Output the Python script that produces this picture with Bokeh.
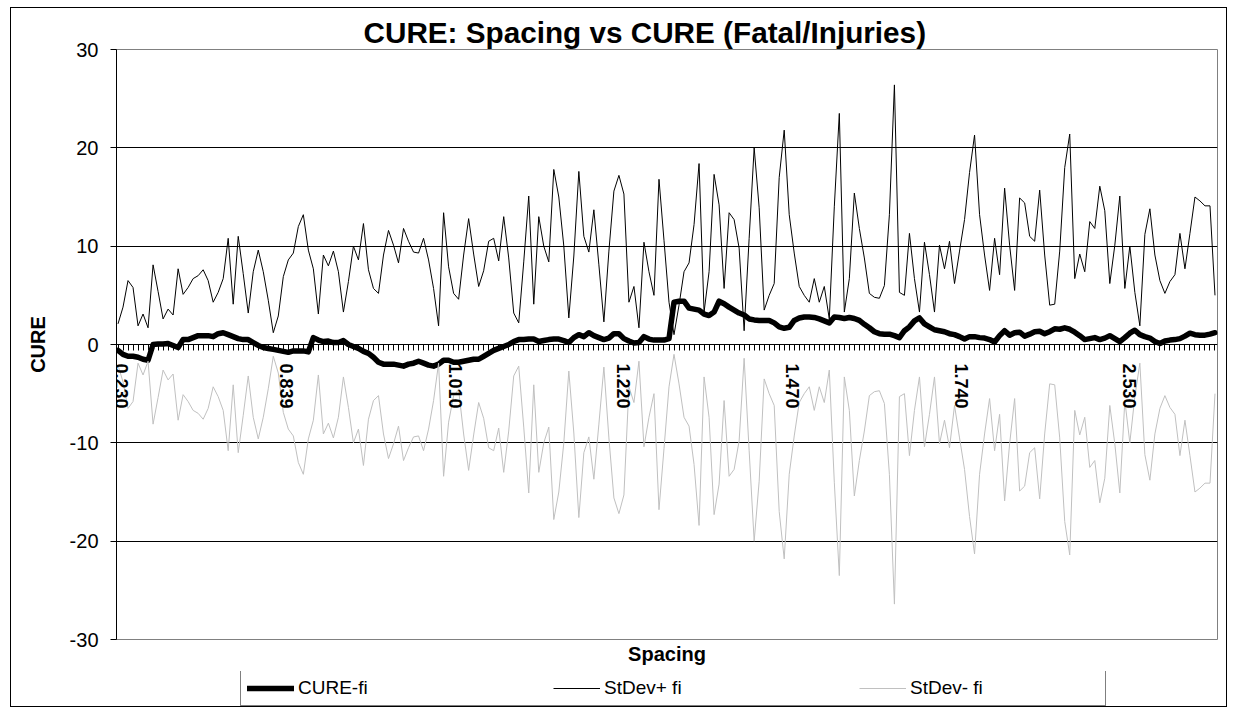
import math
from bokeh.plotting import figure
from bokeh.layouts import column
from bokeh.models import ColumnDataSource, Range1d, FixedTicker, Title, Legend, LegendItem
from bokeh.embed import file_html
from bokeh.resources import INLINE

# ---- data ----
tick_labels = ["0.230", "0.839", "1.010", "1.220", "1.470", "1.740", "2.530"]
label_step = 33.66  # categories (tick units) between two labelled ticks
y_ticks = [-30, -20, -10, 0, 10, 20, 30]
y_tick_labels = ["-30", "-20", "-10", "0", "10", "20", "30"]
series_names = ["CURE-fi", "StDev+ fi", "StDev- fi"]

cure_fi = [
    -0.6, -1.0, -1.2, -1.2, -1.3, -1.5, -1.6, 0.0, 0.05, 0.05,
    0.1, -0.1, -0.3, 0.5, 0.5, 0.7, 0.9, 0.9, 0.9, 0.8,
    1.1, 1.2, 1.0, 0.8, 0.6, 0.5, 0.5, 0.2, -0.1, -0.3,
    -0.4, -0.5, -0.6, -0.7, -0.8, -0.65, -0.65, -0.65, -0.75, 0.7,
    0.45, 0.3, 0.35, 0.2, 0.2, 0.4,
    0.0, -0.2, -0.4, -0.7, -0.9, -1.3, -1.8, -2.0, -2.0, -2.0,
    -2.1, -2.2, -2.0, -1.9, -1.7, -1.9, -2.1, -2.2, -2.0, -1.6,
    -1.6, -1.8, -1.8, -1.7, -1.6, -1.5, -1.5, -1.2, -0.9, -0.6,
    -0.4, -0.2, 0.0, 0.3, 0.5, 0.5, 0.55, 0.55, 0.3, 0.4,
    0.5, 0.55, 0.55, 0.4, 0.2, 0.7, 1.0, 0.8, 1.2, 0.9,
    0.7, 0.5, 0.65, 1.1, 1.1, 0.6, 0.35, 0.15, 0.2, 0.8,
    0.55, 0.45, 0.45, 0.45, 0.6,
    4.3, 4.4, 4.4, 3.7, 3.6, 3.5, 3.1, 2.95, 3.3, 4.4,
    4.15, 3.8, 3.5, 3.2, 3.0, 2.6, 2.5, 2.45, 2.45, 2.45,
    2.2, 1.8, 1.65, 1.75, 2.45, 2.7, 2.8, 2.8, 2.75, 2.6,
    2.4, 2.2, 2.8, 2.75, 2.65, 2.75, 2.65, 2.45, 2.05, 1.7,
    1.3, 1.1, 1.05, 1.05, 0.9, 0.7, 1.4, 1.8, 2.4, 2.7,
    2.1, 1.8, 1.5, 1.4, 1.3,
    1.1, 1.0, 0.8, 0.55, 0.8, 0.8, 0.7, 0.65, 0.5, 0.25,
    0.9, 1.4, 0.95, 1.2, 1.25, 0.85, 1.05, 1.3, 1.35, 1.1,
    1.3, 1.6, 1.55, 1.7, 1.55, 1.25, 0.9, 0.5, 0.6, 0.7,
    0.5, 0.65, 0.9, 0.6, 0.3, 0.7, 1.15, 1.45, 1.0, 0.8,
    0.65, 0.3, 0.1, 0.35, 0.45, 0.5, 0.6, 0.85, 1.15, 1.0,
    0.95, 0.95, 1.05, 1.2,
]

stdev_plus = [
    2.1, 3.8, 6.5, 5.8, 1.9, 3.1, 1.7, 8.1, 5.4, 2.6,
    3.6, 3.0, 7.7, 5.1, 5.8, 6.7, 7.0, 7.6, 6.5, 4.3,
    5.3, 6.7, 10.8, 4.1, 11.0, 7.2, 3.2, 7.4, 9.6, 7.4,
    4.5, 1.2, 2.9, 6.9, 8.6, 9.3, 12.0, 13.2, 9.6, 7.7,
    3.1, 9.1, 8.0, 9.5, 7.4, 3.3, 6.4, 10.0, 8.6, 12.3,
    7.6, 5.7, 5.2, 9.1, 11.6, 10.1,
    8.3, 11.8, 10.5, 9.4,
    9.3, 10.8, 8.6, 5.7, 1.9, 13.4, 7.9, 5.2, 4.6, 9.1,
    12.8, 9.2, 5.9, 7.5, 10.5, 10.8, 8.5, 13.0, 8.8, 3.2,
    2.2, 8.4, 15.1, 4.1, 13.0, 10.0, 8.4, 17.8, 15.0, 10.0,
    2.7, 9.0, 17.6, 11.0, 9.4, 13.7, 8.1, 2.3, 9.5, 15.6,
    17.2, 15.3, 4.3, 5.9, 1.7, 10.4, 7.4, 5.0, 16.8, 10.6,
    4.3, 1.0, 4.0, 7.4, 8.3, 12.2, 18.4, 3.3, 7.4, 17.3,
    14.2, 5.7, 13.4, 12.7, 9.8, 1.4, 10.8, 20.0, 13.9, 3.5,
    5.0, 6.2, 17.0, 21.8, 13.2, 9.3, 5.9, 5.0, 4.3, 6.7,
    4.3, 5.9, 2.6, 14.0, 23.5, 3.3, 6.7, 15.4, 11.8, 8.8,
    5.2, 4.8, 4.7, 6.0, 13.2, 26.4, 5.3, 5.0, 11.3, 6.7,
    3.3, 10.4, 7.1, 3.3, 10.1, 7.7, 10.5, 6.2, 9.5, 12.7,
    17.5, 21.3, 13.2, 9.1, 5.5, 10.8, 7.1, 15.9, 10.1, 5.5,
    14.9, 14.4, 11.0, 10.5, 15.7, 9.1, 4.0, 4.1, 9.5, 18.0,
    21.4, 6.7, 9.2, 7.4, 12.5, 11.8, 16.1, 13.6, 6.2, 10.1,
    15.1, 5.7, 10.0, 5.3, 1.9, 11.2, 13.8, 9.1, 6.5, 5.2,
    6.4, 7.1, 11.3, 7.7, 11.3, 15.0, 14.6, 14.1, 14.1, 5.0,
]

stdev_minus = [
    -2.1, -3.8, -6.5, -5.8, -1.9, -3.1, -1.7, -8.1, -5.4, -2.6,
    -3.6, -3.0, -7.7, -5.1, -5.8, -6.7, -7.0, -7.6, -6.5, -4.3,
    -5.3, -6.7, -10.8, -4.1, -11.0, -7.2, -3.2, -7.4, -9.6, -7.4,
    -4.5, -1.2, -2.9, -6.9, -8.6, -9.3, -12.0, -13.2, -9.6, -7.7,
    -3.1, -9.1, -8.0, -9.5, -7.4, -3.3, -6.4, -10.0, -8.6, -12.3,
    -7.6, -5.7, -5.2, -9.1, -11.6, -10.1,
    -8.3, -11.8, -10.5, -9.4,
    -9.3, -10.8, -8.6, -5.7, -1.9, -13.4, -7.9, -5.2, -4.6, -9.1,
    -12.8, -9.2, -5.9, -7.5, -10.5, -10.8, -8.5, -13.0, -8.8, -3.2,
    -2.2, -8.4, -15.1, -4.1, -13.0, -10.0, -8.4, -17.8, -15.0, -10.0,
    -2.7, -9.0, -17.6, -11.0, -9.4, -13.7, -8.1, -2.3, -9.5, -15.6,
    -17.2, -15.3, -4.3, -5.9, -1.7, -10.4, -7.4, -5.0, -16.8, -10.6,
    -4.3, -1.0, -4.0, -7.4, -8.3, -12.2, -18.4, -3.3, -7.4, -17.3,
    -14.2, -5.7, -13.4, -12.7, -9.8, -1.4, -10.8, -20.0, -13.9, -3.5,
    -5.0, -6.2, -17.0, -21.8, -13.2, -9.3, -5.9, -5.0, -4.3, -6.7,
    -4.3, -5.9, -2.6, -14.0, -23.5, -3.3, -6.7, -15.4, -11.8, -8.8,
    -5.2, -4.8, -4.7, -6.0, -13.2, -26.4, -5.3, -5.0, -11.3, -6.7,
    -3.3, -10.4, -7.1, -3.3, -10.1, -7.7, -10.5, -6.2, -9.5, -12.7,
    -17.5, -21.3, -13.2, -9.1, -5.5, -10.8, -7.1, -15.9, -10.1, -5.5,
    -14.9, -14.4, -11.0, -10.5, -15.7, -9.1, -4.0, -4.1, -9.5, -18.0,
    -21.4, -6.7, -9.2, -7.4, -12.5, -11.8, -16.1, -13.6, -6.2, -10.1,
    -15.1, -5.7, -10.0, -5.3, -1.9, -11.2, -13.8, -9.1, -6.5, -5.2,
    -6.4, -7.1, -11.3, -7.7, -11.3, -15.0, -14.6, -14.1, -14.1, -5.0,
]

y_grid = [-20, -10, 10, 20]
FONT = "Liberation Sans"
CURE_STYLE = dict(line_color="black", line_width=5.5, line_join="round", line_cap="round")
PLUS_STYLE = dict(line_color="black", line_width=1)
MINUS_STYLE = dict(line_color="#c0c0c0", line_width=1)

n_cat = len(cure_fi)
label_pos = [round(k * label_step, 2) for k in range(len(tick_labels))]
label_pos[0] = 0.7  # nudge first label right so the frame does not clip it

src_cure = ColumnDataSource(dict(x=list(range(len(cure_fi))), y=cure_fi))
src_plus = ColumnDataSource(dict(x=list(range(len(stdev_plus))), y=stdev_plus))
src_minus = ColumnDataSource(dict(x=list(range(len(stdev_minus))), y=stdev_minus))

FIG_W = 105 + 1099 + 11

p = figure(
    frame_width=1099, frame_height=588,
    output_backend="svg", toolbar_location=None,
    x_range=Range1d(-0.3, 219.5), y_range=Range1d(-30, 30),
    min_border_left=105, min_border_right=11, min_border_top=41, min_border_bottom=69,
    background_fill_color="white", border_fill_color="white",
)
p.styles = {"border": "1px solid black", "box-sizing": "border-box",
            "margin-left": "10px", "margin-top": "7px"}

# title
p.title.text = "CURE: Spacing vs CURE (Fatal/Injuries)"
p.title.text_font = FONT
p.title.text_font_size = "29.7px"
p.title.text_font_style = "bold"
p.title.text_color = "black"
p.title.align = "left"
p.title.offset = 247
p.title.standoff = 2

# frame / grid
p.outline_line_color = "#808080"
p.xgrid.visible = False
p.ygrid.ticker = FixedTicker(ticks=y_grid)
p.ygrid.grid_line_color = "black"
p.ygrid.grid_line_width = 1

# y axis
yax = p.yaxis[0]
yax.ticker = FixedTicker(ticks=y_ticks)
yax.major_label_overrides = {v: s for v, s in zip(y_ticks, y_tick_labels)}
yax.axis_line_color = "black"
yax.major_tick_line_color = "black"
yax.major_tick_out = 6
yax.major_tick_in = 0
yax.minor_tick_line_color = None
yax.major_label_standoff = 12
yax.major_label_text_font = FONT
yax.major_label_text_font_size = "20px"
yax.major_label_text_color = "black"
yax.axis_label = "CURE"
yax.axis_label_text_font = FONT
yax.axis_label_text_font_size = "20px"
yax.axis_label_text_font_style = "bold"
yax.axis_label_text_color = "black"
yax.axis_label_standoff = 18

# x (category) axis crossing at y = 0
xax = p.xaxis[0]
xax.fixed_location = 0
xax.ticker = FixedTicker(ticks=label_pos, minor_ticks=list(range(n_cat)))
xax.major_label_overrides = {pos: lab for pos, lab in zip(label_pos, tick_labels)}
xax.axis_line_color = "black"
xax.major_tick_line_color = None
xax.minor_tick_line_color = "black"
xax.major_tick_out = 6
xax.major_tick_in = 0
xax.minor_tick_out = 6
xax.minor_tick_in = 0
xax.major_label_orientation = -math.pi / 2
xax.major_label_standoff = 13
xax.major_label_text_font = FONT
xax.major_label_text_font_size = "18px"
xax.major_label_text_font_style = "bold"
xax.major_label_text_color = "black"

# series
p.line("x", "y", source=src_cure, **CURE_STYLE)
p.line("x", "y", source=src_plus, **PLUS_STYLE)
p.line("x", "y", source=src_minus, **MINUS_STYLE)

# x axis title
p.add_layout(Title(text="Spacing", align="center", text_font=FONT, text_font_size="20px",
                   text_font_style="bold", text_color="black", standoff=2), "below")

# ---- legend strip: its own transparent canvas, laid over the bottom of the chart area ----
lf = figure(
    width=FIG_W, height=36, output_backend="svg", toolbar_location=None, title=None,
    x_axis_type=None, y_axis_type=None,
    min_border_left=0, min_border_right=0, min_border_top=0, min_border_bottom=0,
    x_range=Range1d(0, 1), y_range=Range1d(0, 1),
    background_fill_alpha=0, border_fill_alpha=0,
)
lf.outline_line_color = None
lf.grid.visible = False
lf.styles = {"margin-left": "10px", "margin-top": "-36px"}
# legend sample renderers: their points lie outside the strip's ranges, so only the legend shows
lr_cure = lf.line([5, 6], [5, 5], **CURE_STYLE)
lr_plus = lf.line([5, 6], [5, 5], **PLUS_STYLE)
lr_minus = lf.line([5, 6], [5, 5], **MINUS_STYLE)

legend = Legend(
    items=[
        LegendItem(label=series_names[0], renderers=[lr_cure]),
        LegendItem(label=series_names[1], renderers=[lr_plus]),
        LegendItem(label=series_names[2], renderers=[lr_minus]),
    ],
    orientation="horizontal", location=(125, 1),
    glyph_width=47, label_standoff=4, label_width=189, spacing=66,
    padding=6, margin=0,
    label_text_font=FONT, label_text_font_size="19px", label_text_color="black",
    border_line_color="black", border_line_width=1,
    background_fill_color="white", background_fill_alpha=1,
)
lf.add_layout(legend, "center")

layout = column(p, lf, spacing=0)
open("out.html", "w").write(file_html(layout, INLINE))
